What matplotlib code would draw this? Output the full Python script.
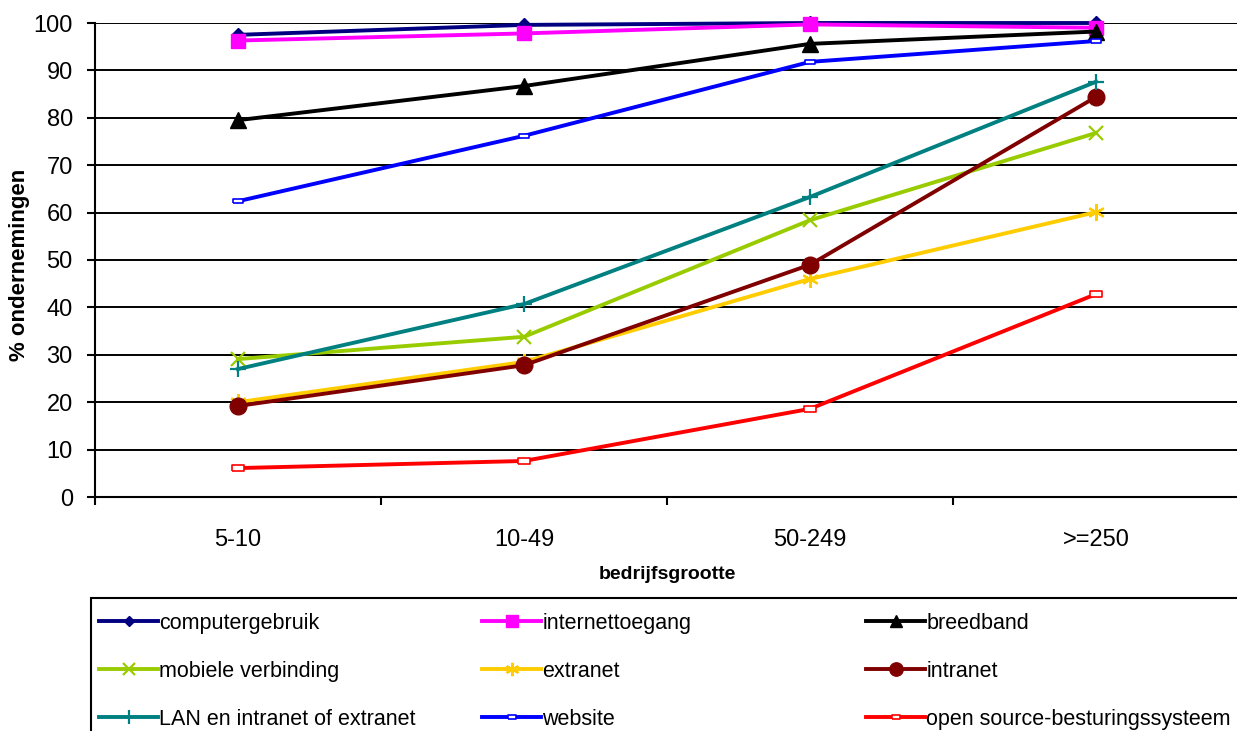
import matplotlib
matplotlib.use('Agg')
import matplotlib.pyplot as plt
from matplotlib.patches import Rectangle

plt.rcParams['font.family'] = ['Liberation Sans', 'DejaVu Sans']

# Bedrijfsgrootte (aantal werkzame personen)
groottes = ['5-10', '10-49', '50-249', '>=250']

computergebruik = [97.5, 99.6, 100.0, 100.0]
internettoegang = [96.3, 97.8, 99.7, 99.0]
breedband = [79.5, 86.7, 95.6, 98.2]
mobiele_verbinding = [29.1, 33.8, 58.4, 76.8]
extranet = [20.0, 28.5, 46.0, 60.1]
intranet = [19.2, 27.8, 49.0, 84.4]
lan_intra_extra = [27.0, 40.7, 63.3, 87.6]
website = [62.4, 76.2, 91.8, 96.2]
open_source = [6.1, 7.6, 18.6, 42.8]

rect = [(-1, -0.5), (1, -0.5), (1, 0.5), (-1, 0.5), (-1, -0.5)]

series = [
    ('computergebruik', computergebruik, '#000080', dict(marker='D', ms=7)),
    ('internettoegang', internettoegang, '#FF00FF', dict(marker='s', ms=10)),
    ('breedband', breedband, '#000000', dict(marker='^', ms=11)),
    ('mobiele verbinding', mobiele_verbinding, '#99CC00', dict(marker='x', ms=10, mew=1.6)),
    ('extranet', extranet, '#FFCC00', dict(marker=(6, 2, 0), ms=12, mew=1.6)),
    ('intranet', intranet, '#800000', dict(marker='o', ms=12)),
    ('LAN en intranet of extranet', lan_intra_extra, '#008080', dict(marker='+', ms=12, mew=1.6)),
    ('website', website, '#0000FF', dict(marker=rect, ms=7, mfc='white', mew=1.2)),
    ('open source-besturingssysteem', open_source, '#FF0000', dict(marker=rect, ms=8, mfc='white', mew=1.2)),
]

W, H = 1237, 731
fig = plt.figure(figsize=(W / 100, H / 100), dpi=100)
ax = fig.add_axes([95 / W, 1 - 497 / H, 1144 / W, 474 / H])

x = list(range(len(groottes)))
handles = {}
for name, vals, color, mk in series:
    h, = ax.plot(x, vals, color=color, lw=2.8, label=name, clip_on=False, **mk)
    handles[name] = h

ax.set_xlim(-0.5, len(groottes) - 0.5)
ax.set_ylim(0, 100)
ax.set_yticks(range(0, 101, 10))
ax.yaxis.grid(True, color='black', lw=1.4)
ax.set_axisbelow(True)

# category ticks sit between groups, labels in the middle
ax.set_xticks([i - 0.5 for i in range(len(groottes) + 1)])
ax.set_xticklabels([])
ax.set_xticks(x, minor=True)
ax.set_xticklabels(groottes, minor=True)
ax.tick_params(axis='x', which='minor', length=0, pad=23, labelsize=17)
ax.tick_params(axis='x', which='major', length=6, width=1.5)
ax.tick_params(axis='y', length=6, width=1.5, pad=10, labelsize=17)

for s in ['top', 'right']:
    ax.spines[s].set_visible(False)
for s in ['left', 'bottom']:
    ax.spines[s].set_linewidth(1.5)

ax.set_xlabel('bedrijfsgrootte', fontsize=14, fontweight='bold')
ax.xaxis.set_label_coords(0.5, -0.145)
ax.set_ylabel('% ondernemingen', fontsize=16, fontweight='bold')
ax.yaxis.set_label_coords(-0.057, 0.49)

# legend box, three columns each drawn as its own legend
fig.patches.append(Rectangle((91 / W, -0.05), 1.1, 1 - 598 / H + 0.05,
                             transform=fig.transFigure, fill=False,
                             edgecolor='black', lw=1.5))
columns = [
    (99, ['computergebruik', 'mobiele verbinding', 'LAN en intranet of extranet']),
    (482, ['internettoegang', 'extranet', 'website']),
    (866, ['breedband', 'intranet', 'open source-besturingssysteem']),
]
for x0, names in columns:
    leg = fig.legend([handles[n] for n in names], names, loc='upper left',
                     bbox_to_anchor=(x0 / W, 1 - 613 / H), frameon=False,
                     fontsize=15.5, handlelength=2.75, handletextpad=0.05,
                     labelspacing=1.25, borderpad=0, borderaxespad=0,
                     markerscale=0.8)

fig.savefig('out.png', dpi=100)
